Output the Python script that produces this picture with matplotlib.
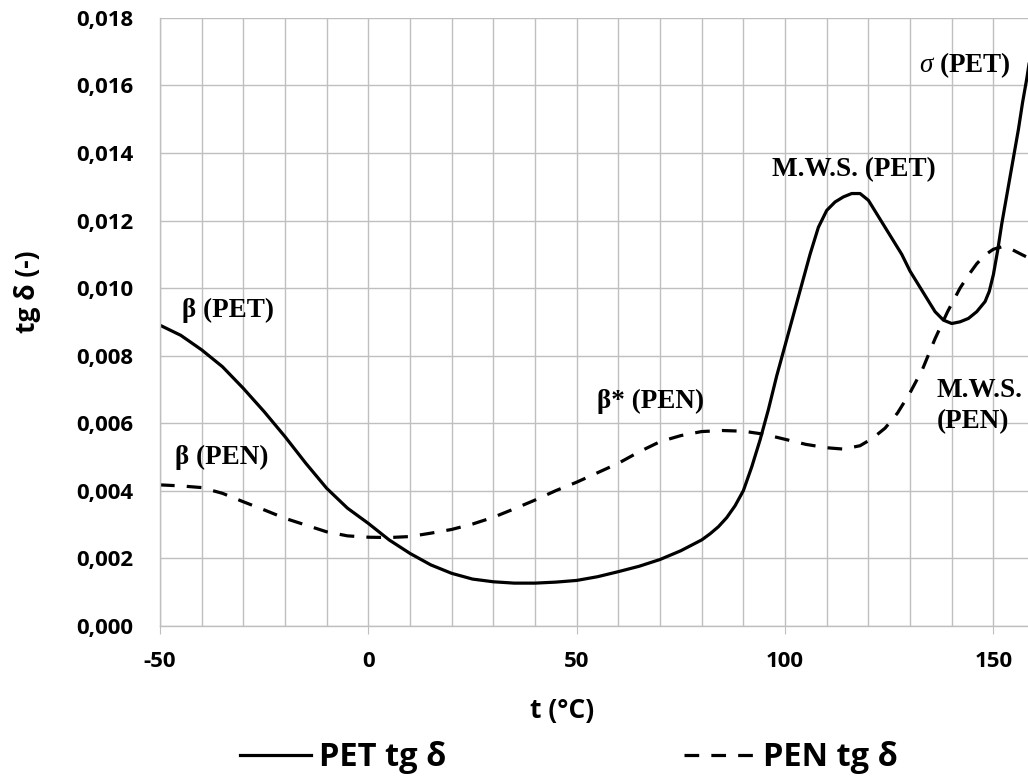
import matplotlib
matplotlib.use("Agg")
import matplotlib.pyplot as plt
from matplotlib.ticker import MultipleLocator, FuncFormatter

# temperature (°C) and tg delta
pet_t = [-50, -45, -40, -35, -30, -25, -20, -15, -10, -5, 0, 5, 10, 15, 20, 25,
         30, 35, 40, 45, 50, 55, 60, 65, 70, 75, 80, 82, 84, 86, 88, 90, 92, 94,
         96, 98, 100, 102, 104, 106, 108, 110, 112, 114, 116, 118, 120, 122,
         124, 126, 128, 130, 132, 134, 136, 138, 140, 142, 144, 146, 148, 149,
         150, 151, 152, 153, 154, 155, 156, 157, 158, 159]
pet_tg = [0.0089, 0.0086, 0.00817, 0.00767, 0.00703, 0.00634, 0.0056, 0.00481,
          0.00407, 0.00348, 0.00303, 0.00254, 0.00214, 0.0018, 0.00155,
          0.00138, 0.0013, 0.00126, 0.00126, 0.00129, 0.00134, 0.00145,
          0.0016, 0.00176, 0.00196, 0.00222, 0.00254, 0.00272, 0.00293,
          0.0032, 0.00355, 0.0040, 0.0047, 0.0055, 0.0064, 0.0074, 0.0083,
          0.0092, 0.0101, 0.0110, 0.0118, 0.0123, 0.01255, 0.0127, 0.0128,
          0.0128, 0.0126, 0.0122, 0.0118, 0.0114, 0.0110, 0.0105, 0.0101,
          0.0097, 0.0093, 0.00905, 0.00895, 0.0090, 0.0091, 0.0093, 0.0096,
          0.0099, 0.0104, 0.0111, 0.0119, 0.0126, 0.0133, 0.0140, 0.0147,
          0.0155, 0.0162, 0.0170]

pen_t = [-50, -45, -40, -35, -30, -25, -20, -15, -10, -5, 0, 5, 10, 15, 20, 25,
         30, 35, 40, 45, 50, 55, 60, 65, 70, 75, 80, 85, 90, 95, 100, 105, 110,
         114, 118, 121, 124, 127, 130, 133, 136, 139, 142, 144, 146, 148, 150,
         152, 154, 157, 160]
pen_tg = [0.00417, 0.00414, 0.00409, 0.00392, 0.00367, 0.00343, 0.00318,
          0.00298, 0.00278, 0.00266, 0.00262, 0.00261, 0.00264, 0.00274,
          0.00285, 0.00301, 0.00321, 0.00346, 0.00372, 0.0040, 0.00425,
          0.00453, 0.00481, 0.00515, 0.00545, 0.00563, 0.00575, 0.00578,
          0.00576, 0.00567, 0.00552, 0.00537, 0.00527, 0.00523, 0.00533,
          0.00555, 0.00585, 0.0063, 0.0069, 0.0076, 0.0085, 0.0093, 0.0100,
          0.01038, 0.01072, 0.01098, 0.01115, 0.01122, 0.01117, 0.01098,
          0.0108]

# peak annotations: text, x, y, horizontal alignment
peak_labels = [
    ("β (PET)", -33.7, 0.00935, "center"),
    ("β (PEN)", -35.1, 0.00497, "center"),
    ("β* (PEN)", 67.8, 0.00664, "center"),
    ("M.W.S. (PET)", 116.4, 0.0135, "center"),
    (r"$\sigma$ (PET)", 143.1, 0.0166, "center"),
    ("M.W.S.\n(PEN)", 136.4, 0.00651, "left"),
]

plt.rcParams['axes.unicode_minus'] = False
plt.rcParams['mathtext.fontset'] = 'custom'
plt.rcParams['mathtext.rm'] = 'Liberation Serif:bold'
plt.rcParams['mathtext.it'] = 'Liberation Serif:italic'

sans = "Open Sans"
serif = "Liberation Serif"
grid_c = "#bfbfbf"

fig = plt.figure(figsize=(10.28, 7.78), dpi=100)
ax = fig.add_axes([0.1556, 0.1958, 0.8444, 0.7811])

pet_line, = ax.plot(pet_t, pet_tg, color="black", lw=2.3, label="PET tg δ")
pen_line, = ax.plot(pen_t, pen_tg, color="black", lw=2.3, dashes=(4.6, 3.8),
                    label="PEN tg δ")

ax.set_xlim(-50, 158.3)
ax.set_ylim(0, 0.018)
ax.xaxis.set_major_locator(MultipleLocator(50))
ax.xaxis.set_minor_locator(MultipleLocator(10))
ax.yaxis.set_major_locator(MultipleLocator(0.002))
ax.yaxis.set_major_formatter(FuncFormatter(lambda v, p: f"{v:.3f}".replace(".", ",")))

ax.grid(True, which="minor", axis="x", color=grid_c, lw=1.0)
ax.grid(True, which="major", axis="both", color=grid_c, lw=1.0)
ax.set_axisbelow(True)

for s in ["top", "right"]:
    ax.spines[s].set_visible(False)
for s in ["left", "bottom"]:
    ax.spines[s].set_color(grid_c)
    ax.spines[s].set_linewidth(1.0)

ax.tick_params(axis="x", which="major", length=6, color=grid_c, pad=12)
ax.tick_params(axis="x", which="minor", length=0)
ax.tick_params(axis="y", length=0, pad=19)
for lab in ax.get_xticklabels() + ax.get_yticklabels():
    lab.set_fontfamily(sans)
    lab.set_fontweight("bold")
    lab.set_fontsize(16)

ax.set_xlabel("t (°C)", fontfamily=sans, fontweight="bold", fontsize=19, va="center")
ax.xaxis.set_label_coords(0.4637, -0.139)
ax.set_ylabel("tg δ (-)", fontfamily=sans, fontweight="bold", fontsize=19, va="center")
ax.yaxis.set_label_coords(-0.1527, 0.549)

for txt, x, y, ha in peak_labels:
    ax.text(x, y, txt, fontfamily=serif, fontweight="bold", fontsize=19.5,
            ha=ha, va="center", linespacing=1.3)

fig.legend(handles=[pet_line, pen_line], loc="center",
           bbox_to_anchor=(569 / 1028, 1 - 758 / 778), ncol=2, frameon=False,
           prop={"family": sans, "weight": "bold", "size": 23.5},
           handlelength=2.15, handletextpad=0.25, columnspacing=7.3)

fig.savefig("out.png", dpi=100)
